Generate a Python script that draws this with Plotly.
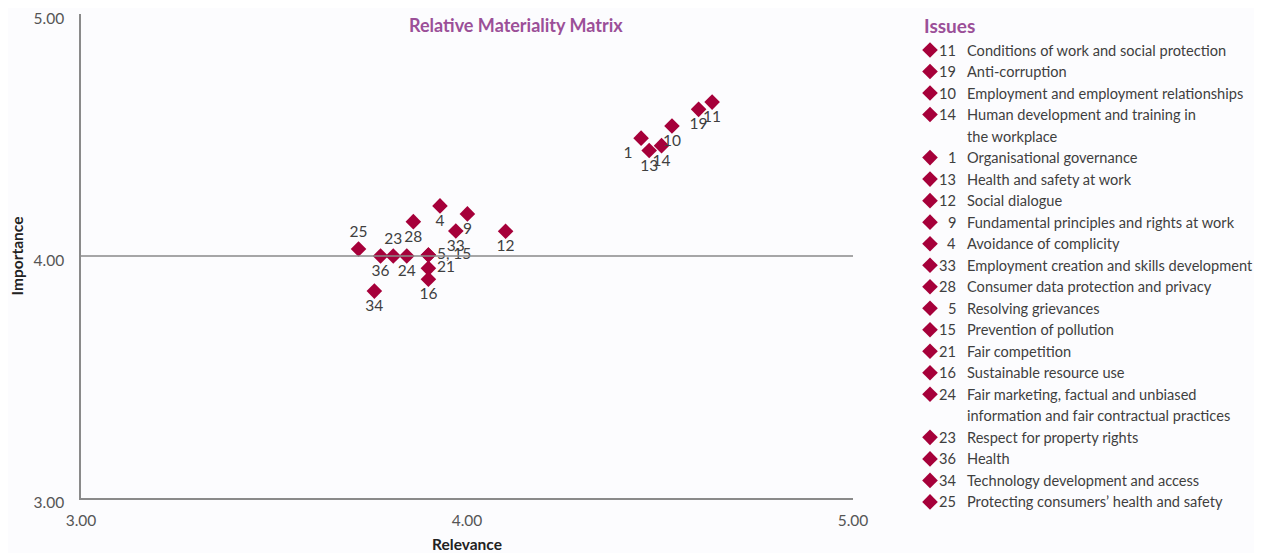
import plotly.graph_objects as go

# ---- data ----
issue_ids = ["11", "19", "10", "14", "1", "13", "12", "9", "4", "33", "28",
             "5", "15", "21", "16", "24", "23", "36", "34", "25"]
issue_names = [
    "Conditions of work and social protection",
    "Anti-corruption",
    "Employment and employment relationships",
    "Human development and training in\nthe workplace",
    "Organisational governance",
    "Health and safety at work",
    "Social dialogue",
    "Fundamental principles and rights at work",
    "Avoidance of complicity",
    "Employment creation and skills development",
    "Consumer data protection and privacy",
    "Resolving grievances",
    "Prevention of pollution",
    "Fair competition",
    "Sustainable resource use",
    "Fair marketing, factual and unbiased\ninformation and fair contractual practices",
    "Respect for property rights",
    "Health",
    "Technology development and access",
    "Protecting consumers\u2019 health and safety",
]
relevance = [4.635, 4.600, 4.531, 4.504, 4.451, 4.472, 4.100, 4.001, 3.930, 3.971, 3.861,
             3.900, 3.900, 3.900, 3.900, 3.844, 3.809, 3.776, 3.760, 3.719]
importance = [4.636, 4.606, 4.537, 4.456, 4.487, 4.436, 4.102, 4.174, 4.207, 4.103, 4.142,
              4.004, 4.004, 3.949, 3.904, 4.000, 4.000, 4.000, 3.855, 4.029]
point_labels = ["11", "19", "10", "14", "1", "13", "12", "9", "4", "33", "28",
                "5, 15", "", "21", "16", "24", "23", "36", "34", "25"]
label_positions = ["bottom center", "bottom center", "bottom center", "bottom center",
                   "bottom left", "bottom center", "bottom center", "bottom center",
                   "bottom center", "bottom center", "bottom center", "middle right",
                   "middle right", "middle right", "bottom center", "bottom center",
                   "top center", "bottom center", "bottom center", "top center"]

x_ticks = [3, 4, 5]
y_ticks = [3, 4, 5]

# ---- style ----
OFF = 8  # default page margin around the plot div
PAGE_W, PAGE_H = 1262, 553
W, H = PAGE_W - OFF, PAGE_H - OFF


def fx(px):
    return px - OFF


def fy(py):
    return py - OFF


L, R, T, B = fx(81), 2, 2, H - fy(513)
PW, PH = W - L - R, H - T - B
MAIN_RIGHT, MAIN_TOP, MAIN_BOTTOM = fx(853), fy(14), fy(498)
DIAMOND = "#a6003a"
PURPLE = "#9b4f98"
TEXT = "#3f3f3f"
AXIS = "#8a8a8a"
FONT = "Lato"

fig = go.Figure()

fig.add_trace(go.Scatter(
    x=relevance, y=importance, mode="markers+text",
    text=point_labels, textposition=label_positions,
    textfont=dict(family=FONT, size=15.5, color=TEXT),
    marker=dict(symbol="diamond", size=12, color=DIAMOND),
    cliponaxis=False, showlegend=False, hoverinfo="skip",
    xaxis="x", yaxis="y",
))

# horizontal reference line at importance 4.00
fig.add_shape(type="line", xref="x", yref="y", x0=3, x1=5, y0=4, y1=4,
              line=dict(color=AXIS, width=1.5))

# ---- legend (right side, pixel-mapped overlay axes) ----
row0, step = 50, 21.52
leg_x, leg_y = [], []
annotations = []
row = 0
for iid, name in zip(issue_ids, issue_names):
    y = fy(row0 + row * step)
    leg_x.append(fx(930))
    leg_y.append(y)
    annotations.append(dict(xref="x2", yref="y2", x=fx(958), y=y, text=iid,
                            xanchor="right", yanchor="middle", showarrow=False,
                            font=dict(family=FONT, size=14.6, color=TEXT)))
    for line in name.split("\n"):
        y = fy(row0 + row * step)
        annotations.append(dict(xref="x2", yref="y2", x=fx(965), y=y, text=line,
                                xanchor="left", yanchor="middle", showarrow=False,
                                font=dict(family=FONT, size=14.6, color=TEXT)))
        row += 1

fig.add_trace(go.Scatter(
    x=leg_x, y=leg_y, mode="markers",
    marker=dict(symbol="diamond", size=12, color=DIAMOND),
    cliponaxis=False, showlegend=False, hoverinfo="skip",
    xaxis="x2", yaxis="y2",
))

annotations.append(dict(xref="x2", yref="y2", x=fx(922), y=fy(25), text="<b>Issues</b>",
                        xanchor="left", yanchor="middle", showarrow=False,
                        font=dict(family=FONT, size=19, color=PURPLE)))
annotations.append(dict(xref="x2", yref="y2", x=fx(516), y=fy(25),
                        text="<b>Relative Materiality Matrix</b>",
                        xanchor="center", yanchor="middle", showarrow=False,
                        font=dict(family=FONT, size=18, color=PURPLE)))

fig.update_layout(
    width=W, height=H,
    margin=dict(l=L, r=R, t=T, b=B, autoexpand=False),
    paper_bgcolor="#fcfcfe", plot_bgcolor="rgba(0,0,0,0)",
    xaxis=dict(domain=[0, (MAIN_RIGHT - L) / PW], range=[3, 5], automargin=False,
               tickvals=x_ticks, ticktext=[f"{v:.2f}" for v in x_ticks],
               showgrid=False, zeroline=False, showline=True, linecolor=AXIS, linewidth=1.5,
               ticks="", ticklabelstandoff=8, ticklabeloverflow="allow",
               tickfont=dict(family=FONT, size=15.5, color="#555555"),
               title=dict(text="<b>Relevance</b>", standoff=14,
                          font=dict(family=FONT, size=15.5, color="#222222"))),
    yaxis=dict(domain=[(H - B - MAIN_BOTTOM) / PH, (H - B - MAIN_TOP) / PH], range=[3, 5],
               automargin=False,
               tickvals=y_ticks, ticktext=[f"{v:.2f}" for v in y_ticks],
               showgrid=False, zeroline=False, showline=True, linecolor=AXIS, linewidth=1.5,
               ticks="", ticklabelstandoff=12, ticklabelshift=5, ticklabeloverflow="allow",
               tickfont=dict(family=FONT, size=15.5, color="#555555"),
               title=dict(text="<b>Importance</b>", standoff=14,
                          font=dict(family=FONT, size=15.5, color="#222222"))),
    xaxis2=dict(domain=[0, 1], range=[L, W - R], visible=False, anchor="y2"),
    yaxis2=dict(domain=[0, 1], range=[H - B, T], visible=False, anchor="x2"),
    annotations=annotations,
)

fig.write_html("out.html")
